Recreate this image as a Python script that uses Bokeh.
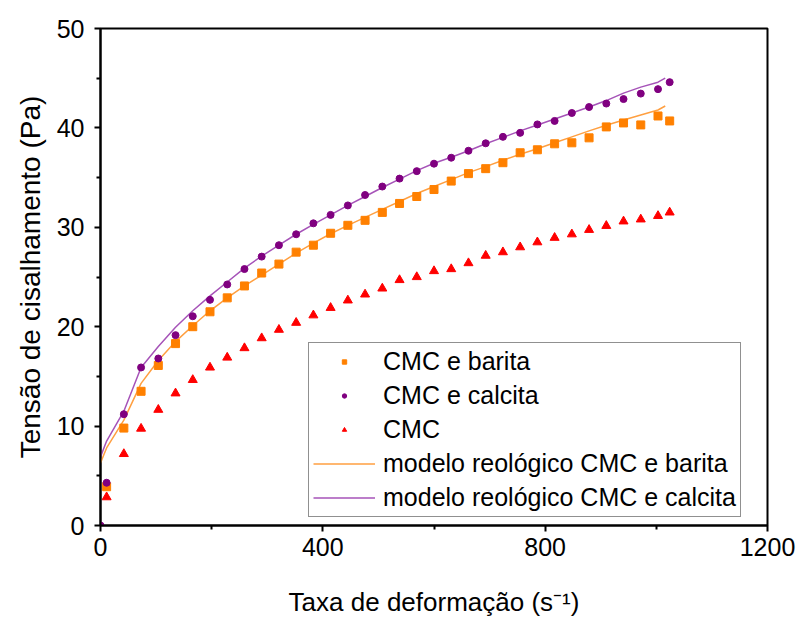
from bokeh.plotting import figure
from bokeh.models import (Range1d, FixedTicker, Legend, LegendItem, ColumnDataSource)
from bokeh.embed import file_html
from bokeh.resources import INLINE

# ---- data ----
shear_rate = [11, 42, 73, 104, 135, 166, 197, 228, 259, 290, 321, 352, 383, 414,
              445, 476, 507, 538, 569, 600, 631, 662, 693, 724, 755, 786, 817,
              848, 879, 910, 941, 972, 1003, 1024]
tau_barita = [3.9, 9.8, 13.5, 16.1, 18.3, 20.0, 21.5, 22.9, 24.1, 25.4, 26.3,
              27.5, 28.2, 29.4, 30.2, 30.7, 31.5, 32.4, 33.1, 33.8, 34.65, 35.4,
              35.9, 36.5, 37.5, 37.8, 38.4, 38.5, 39.0, 40.1, 40.5, 40.3, 41.2, 40.7]
rate_calcita = [0, 11, 42, 73, 104, 135, 166, 197, 228, 259, 290, 321, 352, 383,
                414, 445, 476, 507, 538, 569, 600, 631, 662, 693, 724, 755, 786,
                817, 848, 879, 910, 941, 972, 1003, 1024]
tau_calcita = [0.0, 4.3, 11.2, 15.9, 16.8, 19.15, 21.05, 22.7, 24.25, 25.8, 27.05,
               28.2, 29.3, 30.4, 31.25, 32.2, 33.25, 34.1, 34.9, 35.65, 36.4, 37.0,
               37.7, 38.45, 39.1, 39.5, 40.35, 40.7, 41.5, 42.1, 42.45, 42.9, 43.45,
               43.9, 44.6]
tau_cmc = [2.85, 7.2, 9.75, 11.65, 13.3, 14.65, 15.9, 16.9, 17.85, 18.85, 19.7,
           20.4, 21.15, 21.9, 22.65, 23.25, 23.85, 24.7, 25.0, 25.6, 25.8, 26.4,
           27.15, 27.5, 28.0, 28.5, 28.95, 29.3, 29.75, 30.15, 30.6, 30.8, 31.15, 31.5]

model_rate = [0, 11, 42, 73, 104, 135, 166, 197, 228, 259, 290, 321, 352, 383, 414,
              445, 476, 507, 538, 569, 600, 631, 662, 693, 724, 755, 786, 817, 848,
              879, 910, 941, 972, 1003, 1016]
model_barita = [6.3, 7.8, 10.6, 14.3, 16.6, 18.5, 20.1, 21.6, 22.9, 24.1, 25.2, 26.3,
                27.4, 28.4, 29.35, 30.2, 31.0, 31.8, 32.6, 33.4, 34.1, 34.8, 35.5,
                36.1, 36.75, 37.35, 37.9, 38.5, 39.1, 39.7, 40.27, 40.8, 41.3, 41.8, 42.2]
model_calcita = [6.9, 8.5, 11.5, 15.9, 18.0, 19.95, 21.6, 23.1, 24.5, 25.9, 27.1, 28.2,
                 29.3, 30.3, 31.25, 32.2, 33.1, 34.0, 34.85, 35.7, 36.45, 37.05, 37.7,
                 38.4, 39.05, 39.7, 40.3, 40.9, 41.5, 42.1, 42.75, 43.5, 44.1, 44.6, 45.0]

x_ticks = [0, 400, 800, 1200]
x_minor = [200, 600, 1000]
y_ticks = [0, 10, 20, 30, 40, 50]
y_minor = [5, 15, 25, 35, 45]

labels = ["CMC e barita", "CMC e calcita", "CMC",
          "modelo reológico CMC e barita", "modelo reológico CMC e calcita"]

C_BAR = "#FF8000"
C_CAL = "#800080"
C_CMC = "#FF0000"
C_LBAR = "#FF9F40"
C_LCAL = "#A653B8"
FONT = "Liberation Sans"

p = figure(width=800, height=620, output_backend="svg", toolbar_location=None,
           x_range=Range1d(0, 1200), y_range=Range1d(0, 50),
           min_border_left=100, min_border_right=33, min_border_top=28,
           min_border_bottom=95)
p.grid.visible = False
p.background_fill_color = "white"
p.border_fill_color = "white"
p.outline_line_color = "black"
p.outline_line_width = 2

# model lines
r_lb = p.line(model_rate, model_barita, line_color=C_LBAR, line_width=1.5)
r_lc = p.line(model_rate, model_calcita, line_color=C_LCAL, line_width=1.5)

# data markers
p.scatter(shear_rate, tau_barita, marker="square", size=8, fill_color=C_BAR, line_color=C_BAR)
p.scatter(rate_calcita, tau_calcita, marker="circle", size=7, fill_color=C_CAL, line_color=C_CAL)
p.scatter(shear_rate, tau_cmc, marker="triangle", size=9, fill_color=C_CMC, line_color=C_CMC)

# small legend-only markers (placed outside the visible range)
def hidden():
    return ColumnDataSource(dict(x=[-1000], y=[-1000]))

d_b = p.scatter(x="x", y="y", source=hidden(), marker="square", size=5,
                fill_color=C_BAR, line_color=C_BAR)
d_c = p.scatter(x="x", y="y", source=hidden(), marker="circle", size=5,
                fill_color=C_CAL, line_color=C_CAL)
d_m = p.scatter(x="x", y="y", source=hidden(), marker="triangle", size=7,
                fill_color=C_CMC, line_color=C_CMC)

legend = Legend(items=[
    LegendItem(label=labels[0], renderers=[d_b]),
    LegendItem(label=labels[1], renderers=[d_c]),
    LegendItem(label=labels[2], renderers=[d_m]),
    LegendItem(label=labels[3], renderers=[r_lb]),
    LegendItem(label=labels[4], renderers=[r_lc]),
], location=(208, 8))
legend.label_text_font = FONT
legend.label_text_font_size = "25px"
legend.label_text_color = "black"
legend.glyph_width = 62
legend.glyph_height = 11
legend.label_height = 25
legend.label_standoff = 8
legend.spacing = 5
legend.padding = 4
legend.margin = 0
legend.border_line_color = "#222222"
legend.border_line_width = 1.5
legend.background_fill_alpha = 1
p.add_layout(legend, "center")

# axes
p.xaxis.ticker = FixedTicker(ticks=x_ticks, minor_ticks=x_minor)
p.yaxis.ticker = FixedTicker(ticks=y_ticks, minor_ticks=y_minor)
for ax in (p.xaxis[0], p.yaxis[0]):
    ax.axis_line_width = 2
    ax.axis_line_color = "black"
    ax.major_tick_line_width = 2
    ax.minor_tick_line_width = 2
    ax.major_tick_in = 0
    ax.major_tick_out = 6
    ax.minor_tick_in = 0
    ax.minor_tick_out = 4
    ax.major_label_text_font = FONT
    ax.major_label_text_font_size = "25px"
    ax.major_label_text_color = "black"
    ax.axis_label_text_font = FONT
    ax.axis_label_text_font_style = "normal"
    ax.axis_label_text_color = "black"

p.xaxis.axis_label_text_font_size = "26px"
p.yaxis.axis_label_text_font_size = "28px"
p.xaxis.axis_label = "Taxa de deformação (s⁻¹)"
p.yaxis.axis_label = "Tensão de cisalhamento (Pa)"
p.xaxis.major_label_standoff = 6
p.xaxis.axis_label_standoff = 28
p.yaxis.major_label_standoff = 10
p.yaxis.axis_label_standoff = 8

open("out.html", "w").write(file_html(p, INLINE))
